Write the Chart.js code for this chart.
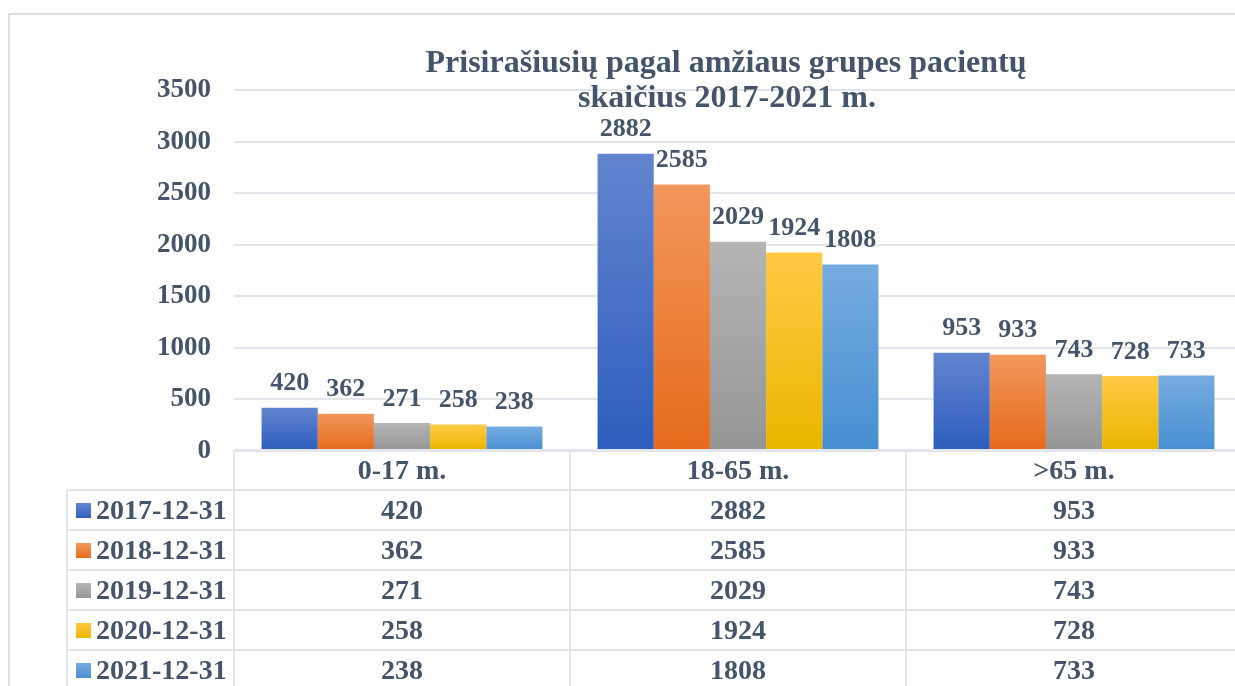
<!DOCTYPE html>
<html>
<head>
<meta charset="utf-8">
<script src="https://cdn.jsdelivr.net/npm/chart.js@4"></script>
<style>
  html, body { margin: 0; padding: 0; background: #fff; overflow: hidden; }
  #wrap { position: absolute; left: 0; top: 0; width: 1250px; height: 700px; }
</style>
</head>
<body>
<div id="wrap"><canvas id="c" width="1250" height="700"></canvas></div>
<script>
// ---- data ----
const categories = ['0-17 m.', '18-65 m.', '>65 m.'];
const seriesNames = ['2017-12-31', '2018-12-31', '2019-12-31', '2020-12-31', '2021-12-31'];
const v2017 = [420, 2882, 953];
const v2018 = [362, 2585, 933];
const v2019 = [271, 2029, 743];
const v2020 = [258, 1924, 728];
const v2021 = [238, 1808, 733];
const yTicks = [0, 500, 1000, 1500, 2000, 2500, 3000, 3500];
const titleLines = ['Prisirašiusių pagal amžiaus grupes pacientų', 'skaičius 2017-2021 m.'];

// ---- styles ----
const TXT = '#44546a';
const LINE = '#e2e6ec';
const FONT = "'Liberation Serif', 'Times New Roman', serif";
const gradStops = [
  ['#6385cf', '#2d5dbd'],
  ['#f2975c', '#e56a1a'],
  ['#b5b5b5', '#959595'],
  ['#ffc944', '#e9b600'],
  ['#76abdf', '#468fd0']
];
const allValues = [v2017, v2018, v2019, v2020, v2021];

function barGradient(i) {
  return function (ctx) {
    const chart = ctx.chart;
    const y = chart.scales && chart.scales.y;
    if (!y || ctx.type !== 'data' || !chart.chartArea) return gradStops[i][0];
    const val = ctx.raw;
    const top = y.getPixelForValue(val);
    const bot = y.getPixelForValue(0);
    if (!isFinite(top) || !isFinite(bot) || top === bot) return gradStops[i][0];
    const g = chart.ctx.createLinearGradient(0, top, 0, bot);
    g.addColorStop(0, gradStops[i][0]);
    g.addColorStop(1, gradStops[i][1]);
    return g;
  };
}

const datasets = seriesNames.map((name, i) => ({
  label: name,
  data: allValues[i],
  backgroundColor: barGradient(i),
  borderWidth: 0,
  barPercentage: 1.0,
  categoryPercentage: 0.836
}));

const ROW_H = 40;

const framePlugin = {
  id: 'frame',
  beforeDraw(chart) {
    const c = chart.ctx;
    c.save();
    c.strokeStyle = '#dadfe6';
    c.lineWidth = 2;
    c.strokeRect(9, 14, 1400, 900);
    c.restore();
  }
};

const labelsPlugin = {
  id: 'valueLabels',
  afterDatasetsDraw(chart) {
    const c = chart.ctx;
    c.save();
    c.fillStyle = TXT;
    c.font = "bold 26px " + FONT;
    c.textAlign = 'center';
    c.textBaseline = 'middle';
    chart.data.datasets.forEach((ds, di) => {
      const meta = chart.getDatasetMeta(di);
      meta.data.forEach((el, j) => {
        c.fillText(String(ds.data[j]), el.x, el.y - 24);
      });
    });
    c.restore();
  }
};

const tablePlugin = {
  id: 'dataTable',
  afterDraw(chart) {
    const c = chart.ctx;
    const xs = chart.scales.x;
    const area = chart.chartArea;
    const top = area.bottom;
    const n = categories.length;
    const catW = (area.right - area.left) / n;
    const legendLeft = 67;
    const rows = seriesNames.length;
    c.save();
    c.strokeStyle = LINE;
    c.lineWidth = 2;
    for (let r = 0; r <= rows + 1; r++) {
      const y = top + r * ROW_H - 1;
      c.beginPath();
      c.moveTo(r === 0 ? area.left : legendLeft, y);
      c.lineTo(area.right + 20, y);
      c.stroke();
    }
    for (let k = 0; k <= n; k++) {
      const x = area.left + k * catW;
      c.beginPath();
      c.moveTo(x, top);
      c.lineTo(x, top + (rows + 2) * ROW_H);
      c.stroke();
    }
    c.beginPath();
    c.moveTo(legendLeft, top + ROW_H - 1);
    c.lineTo(legendLeft, top + (rows + 2) * ROW_H);
    c.stroke();

    c.fillStyle = TXT;
    c.font = "bold 28px " + FONT;
    c.textBaseline = 'middle';
    c.textAlign = 'center';
    categories.forEach((cat, j) => {
      const x = xs.getPixelForValue(j);
      c.fillText(cat, x, top + ROW_H / 2 + 1);
    });
    seriesNames.forEach((name, i) => {
      const cy = top + ROW_H * (i + 1) + ROW_H / 2;
      c.textAlign = 'center';
      c.fillStyle = TXT;
      allValues[i].forEach((v, j) => {
        const x = xs.getPixelForValue(j);
        c.fillText(String(v), x, cy + 1);
      });
      const g = c.createLinearGradient(0, cy - 8, 0, cy + 8);
      g.addColorStop(0, gradStops[i][0]);
      g.addColorStop(1, gradStops[i][1]);
      c.fillStyle = g;
      c.fillRect(76, cy - 8, 15, 15);
      c.fillStyle = TXT;
      c.textAlign = 'left';
      c.fillText(name, 96, cy + 1);
    });
    c.restore();
  }
};

const titlePlugin = {
  id: 'customTitle',
  afterDraw(chart) {
    const c = chart.ctx;
    c.save();
    c.fillStyle = TXT;
    c.font = "bold 32px " + FONT;
    c.textAlign = 'center';
    c.textBaseline = 'alphabetic';
    c.fillText(titleLines[0], 726, 72);
    c.fillText(titleLines[1], 727, 107);
    c.restore();
  }
};

new Chart(document.getElementById('c'), {
  type: 'bar',
  data: { labels: categories, datasets: datasets },
  options: {
    responsive: false,
    animation: false,
    layout: { padding: { top: 90, bottom: 249, left: 0, right: 8 } },
    plugins: {
      legend: { display: false },
      title: { display: false },
      tooltip: { enabled: false }
    },
    scales: {
      x: { display: false },
      y: {
        min: 0,
        max: 3500,
        afterFit(scale) { scale.width = 234; },
        afterBuildTicks(scale) { scale.ticks = yTicks.map(v => ({ value: v })); },
        border: { display: false },
        grid: { color: LINE, lineWidth: 2, drawTicks: false },
        ticks: {
          color: TXT,
          padding: 23,
          font: { family: FONT, size: 27, weight: 'bold' },
          callback: (value) => String(value)
        }
      }
    }
  },
  plugins: [framePlugin, labelsPlugin, tablePlugin, titlePlugin]
});
</script>
</body>
</html>
